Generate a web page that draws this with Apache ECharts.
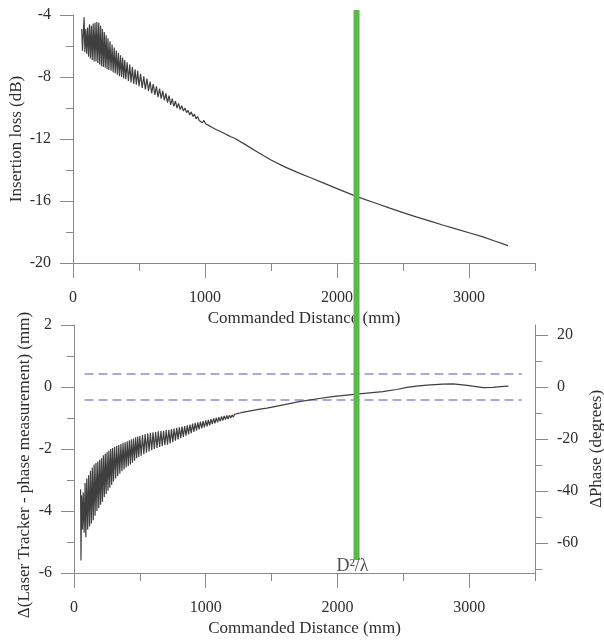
<!DOCTYPE html>
<html><head><meta charset="utf-8">
<script src="https://cdn.jsdelivr.net/npm/echarts@6/dist/echarts.min.js"></script>
<style>html,body{margin:0;padding:0;background:#fff}#c{width:604px;height:642px}</style>
</head><body><div id="c"></div>
<script>
// ---- tick values ----
const xMajor = [0, 1000, 2000, 3000];
const xMinor = [500, 1500, 2500, 3500];
const ilMajor = [-20, -16, -12, -8, -4];
const ilMinor = [-18, -14, -10, -6];
const dMajor = [-6, -4, -2, 0, 2];
const dMinor = [-5, -3, -1, 1];
const phMajor = [-60, -40, -20, 0, 20];
const phMinor = [-70, -50, -30, -10, 10];

// ---- series: insertion loss (dB) vs commanded distance (mm) ----
const insertionLoss = [
[66,-4.9],[72,-6.3],[78,-5.2],[84,-4.15],[90,-6.4],[97,-4.9],[104,-6.5],[111,-4.8],[118,-6.7],[125,-4.6],
[132,-6.8],[139,-4.7],[146,-6.9],[153,-4.55],[160,-7.0],[167,-4.5],[174,-7.0],[181,-4.45],[188,-7.1],[195,-4.5],
[202,-7.2],[209,-4.7],[216,-7.3],[223,-4.9],[230,-7.35],[237,-5.1],[244,-7.4],[251,-5.3],[258,-7.5],[265,-5.5],
[272,-7.55],[280,-5.7],[288,-7.6],[296,-5.9],[304,-7.7],[312,-6.1],[320,-7.75],[328,-6.3],[336,-7.85],[344,-6.45],
[352,-7.95],[360,-6.6],[368,-8.0],[376,-6.75],[384,-8.1],[392,-6.9],[400,-8.15],[410,-7.05],[420,-8.25],[430,-7.2],
[440,-8.35],[450,-7.35],[460,-8.45],[470,-7.5],[480,-8.5],[490,-7.6],[500,-8.6],[512,-7.8],[524,-8.7],[536,-7.95],
[548,-8.8],[560,-8.1],[572,-8.9],[584,-8.3],[596,-9.05],[608,-8.45],[620,-9.15],[632,-8.6],[644,-9.3],[656,-8.75],
[668,-9.4],[680,-8.9],[692,-9.5],[704,-9.05],[716,-9.65],[728,-9.2],[740,-9.8],[752,-9.4],[764,-9.9],[776,-9.55],
[788,-10.0],[800,-9.7],[812,-10.1],[824,-9.85],[836,-10.2],[848,-10.0],[860,-10.3],[872,-10.15],[884,-10.45],[896,-10.25],
[908,-10.55],[920,-10.4],[932,-10.7],[944,-10.55],[956,-10.8],[968,-10.7],[980,-10.95],[992,-10.8],[1004,-11.02],[1016,-10.94],
[1028,-11.12],[1040,-11.04],[1052,-11.24],[1064,-11.16],[1076,-11.35],[1088,-11.28],[1100,-11.45],[1112,-11.39],[1124,-11.55],[1136,-11.49],
[1148,-11.65],[1160,-11.6],[1172,-11.75],[1184,-11.71],[1196,-11.85],[1208,-11.82],[1220,-11.94],
[1300,-12.33],[1400,-12.85],[1500,-13.35],[1600,-13.78],[1700,-14.15],[1800,-14.5],[1900,-14.85],[2000,-15.2],
[2150,-15.72],[2300,-16.16],[2400,-16.46],[2500,-16.75],[2600,-17.02],[2700,-17.28],[2800,-17.55],[2900,-17.8],
[3000,-18.05],[3100,-18.3],[3200,-18.6],[3295,-18.88]
];

// ---- series: delta (laser tracker - phase measurement) in mm ----
const deltaMm = [
[50,-3.3],[53,-5.6],[58,-3.5],[64,-4.6],[70,-3.4],[77,-4.7],[84,-3.1],[90,-4.85],[97,-2.95],[104,-4.6],
[111,-2.85],[118,-4.5],[125,-2.7],[132,-4.4],[139,-2.6],[146,-4.3],[153,-2.5],[160,-4.15],[167,-2.45],[174,-4.0],
[181,-2.4],[188,-3.9],[195,-2.35],[202,-3.8],[209,-2.3],[216,-3.7],[223,-2.2],[230,-3.55],[237,-2.15],[244,-3.45],
[251,-2.1],[258,-3.35],[265,-2.05],[272,-3.25],[279,-2.0],[286,-3.15],[293,-1.97],[300,-3.05],[308,-1.93],[316,-2.95],
[324,-1.9],[332,-2.88],[340,-1.87],[348,-2.8],[356,-1.84],[364,-2.72],[372,-1.8],[380,-2.66],[388,-1.78],[396,-2.6],
[404,-1.75],[412,-2.55],[420,-1.72],[428,-2.5],[436,-1.69],[444,-2.44],[452,-1.66],[460,-2.38],[468,-1.62],[476,-2.3],
[484,-1.6],[492,-2.26],[500,-1.58],[510,-2.22],[520,-1.55],[530,-2.17],[540,-1.52],[550,-2.12],[560,-1.5],[570,-2.08],
[580,-1.48],[590,-2.04],[600,-1.46],[610,-2.0],[620,-1.45],[630,-1.97],[640,-1.43],[650,-1.93],[660,-1.42],[670,-1.9],
[680,-1.41],[690,-1.88],[700,-1.39],[710,-1.86],[720,-1.38],[730,-1.82],[740,-1.36],[750,-1.78],[760,-1.34],[770,-1.73],
[780,-1.32],[790,-1.69],[800,-1.3],[810,-1.65],[820,-1.28],[830,-1.61],[840,-1.26],[850,-1.57],[860,-1.24],[870,-1.53],
[880,-1.21],[890,-1.49],[900,-1.18],[910,-1.45],[920,-1.16],[930,-1.41],[940,-1.14],[950,-1.37],[960,-1.12],[970,-1.33],
[980,-1.1],[990,-1.3],[1000,-1.08],[1010,-1.27],[1020,-1.06],[1030,-1.24],[1040,-1.04],[1050,-1.2],[1060,-1.01],[1070,-1.17],
[1080,-0.99],[1090,-1.14],[1100,-0.97],[1110,-1.11],[1120,-0.95],[1130,-1.08],[1140,-0.93],[1150,-1.05],[1160,-0.92],[1170,-1.03],
[1180,-0.91],[1190,-1.0],[1200,-0.9],[1210,-0.97],[1220,-0.88],[1230,-0.94],[1240,-0.86],[1250,-0.91],[1260,-0.84],[1270,-0.88],
[1280,-0.82],[1290,-0.85],[1300,-0.8],
[1400,-0.72],[1465,-0.68],[1600,-0.57],[1710,-0.47],[1850,-0.38],[1962,-0.31],[2145,-0.23],[2344,-0.15],[2450,-0.08],
[2527,-0.01],[2600,0.03],[2680,0.06],[2800,0.09],[2878,0.1],[2985,0.05],[3107,-0.02],[3180,-0.01],[3237,0.01],[3298,0.03]
];

const tolerance = [0.42, -0.42];
const toleranceSpan = [80, 3400];
const farFieldDistance = 2145;
const farFieldLabel = 'D²/λ';
const mmToDeg = 11.92;

const FONT = 'Liberation Serif';
const TXT = '#2e2e2e';
const AX = '#8a8a8a';
const plain = v => String(v);

function majorX(gridIndex) {
  return {
    gridIndex, type: 'value', position: 'bottom', min: 0, max: 3500,
    axisLine: { show: true, onZero: false, lineStyle: { color: AX, width: 1 } },
    axisTick: { show: true, customValues: xMajor, length: 15, inside: false, lineStyle: { color: AX } },
    axisLabel: { show: true, customValues: xMajor, formatter: plain, margin: 27, fontFamily: FONT, fontSize: 16, color: TXT },
    splitLine: { show: false },
    name: 'Commanded Distance (mm)', nameLocation: 'middle', nameGap: 47, nameMoveOverlap: false,
    nameTextStyle: { fontFamily: FONT, fontSize: 17, color: TXT }
  };
}
function minorX(gridIndex) {
  return {
    gridIndex, type: 'value', position: 'bottom', min: 0, max: 3500,
    axisLine: { show: false, onZero: false },
    axisTick: { show: true, customValues: xMinor, length: 8, lineStyle: { color: AX } },
    axisLabel: { show: false }, splitLine: { show: false }
  };
}
function majorY(gridIndex, pos, min, max, major, name, gap, nameStyleExtra) {
  return {
    gridIndex, type: 'value', position: pos, min, max,
    axisLine: { show: true, onZero: false, lineStyle: { color: AX, width: 1 } },
    axisTick: { show: true, customValues: major, length: 13, lineStyle: { color: AX } },
    axisLabel: { show: true, customValues: major, formatter: plain, margin: 22, fontFamily: FONT, fontSize: 16, color: TXT },
    splitLine: { show: false },
    name, nameLocation: 'middle', nameGap: gap, nameRotate: 90, nameMoveOverlap: false,
    nameTextStyle: Object.assign({ fontFamily: FONT, fontSize: 17, color: TXT }, nameStyleExtra || {})
  };
}
function minorY(gridIndex, pos, min, max, minor) {
  return {
    gridIndex, type: 'value', position: pos, min, max,
    axisLine: { show: false, onZero: false },
    axisTick: { show: true, customValues: minor, length: 7, lineStyle: { color: AX } },
    axisLabel: { show: false }, splitLine: { show: false }
  };
}

const chart = echarts.init(document.getElementById('c'), null, { renderer: 'canvas' });
chart.setOption({
  animation: false,
  backgroundColor: '#fff',
  grid: [
    { left: 73, right: 69, top: 15, bottom: 379, containLabel: false, outerBoundsMode: 'none' },
    { left: 74, right: 69, top: 325, bottom: 69, containLabel: false, outerBoundsMode: 'none' },
    { left: 74, right: 69, top: 10, bottom: 82, containLabel: false, outerBoundsMode: 'none' }
  ],
  xAxis: [
    majorX(0), minorX(0), majorX(1), minorX(1),
    { gridIndex: 2, type: 'value', min: 0, max: 3500, show: false }
  ],
  yAxis: [
    majorY(0, 'left', -20, -4, ilMajor, 'Insertion loss (dB)', 48),
    minorY(0, 'left', -20, -4, ilMinor),
    majorY(1, 'left', -6, 2, dMajor, 'Δ(Laser Tracker - phase measurement) (mm)', 41, { padding: [0, 32, 0, 0] }),
    minorY(1, 'left', -6, 2, dMinor),
    majorY(1, 'right', -6 * mmToDeg, 2 * mmToDeg, phMajor, 'ΔPhase (degrees)', 53),
    minorY(1, 'right', -6 * mmToDeg, 2 * mmToDeg, phMinor),
    { gridIndex: 2, type: 'value', min: 0, max: 1, show: false }
  ],
  series: [
    { type: 'line', xAxisIndex: 0, yAxisIndex: 0, data: insertionLoss, symbol: 'none',
      lineStyle: { color: '#3f3f3f', width: 1.2 }, z: 3 },
    { type: 'line', xAxisIndex: 2, yAxisIndex: 2, data: [[toleranceSpan[0], tolerance[0]], [toleranceSpan[1], tolerance[0]]],
      symbol: 'none', lineStyle: { color: '#8b8fd4', width: 1.5, type: [9, 5] }, z: 2 },
    { type: 'line', xAxisIndex: 2, yAxisIndex: 2, data: [[toleranceSpan[0], tolerance[1]], [toleranceSpan[1], tolerance[1]]],
      symbol: 'none', lineStyle: { color: '#8b8fd4', width: 1.5, type: [9, 5] }, z: 2 },
    { type: 'line', xAxisIndex: 2, yAxisIndex: 2, data: deltaMm, symbol: 'none',
      lineStyle: { color: '#3f3f3f', width: 1.2 }, z: 3 },
    { type: 'line', xAxisIndex: 4, yAxisIndex: 6, data: [[farFieldDistance, 0], [farFieldDistance, 1]], symbol: 'none',
      lineStyle: { color: '#5cb84a', width: 6 }, z: 10 },
    { type: 'scatter', xAxisIndex: 4, yAxisIndex: 6, data: [[farFieldDistance, 0]], symbol: 'circle', symbolSize: 1,
      itemStyle: { color: 'rgba(0,0,0,0)' }, z: 11,
      label: { show: true, position: 'bottom', distance: -3, offset: [-4, 0], formatter: farFieldLabel,
        fontFamily: FONT, fontSize: 18, color: '#222' } }
  ]
});
</script></body></html>
